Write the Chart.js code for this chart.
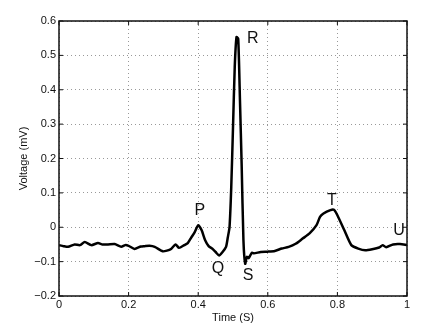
<!DOCTYPE html>
<html>
<head>
<meta charset="utf-8">
<script src="https://cdn.jsdelivr.net/npm/chart.js@4"></script>
<style>
    html, body { margin: 0; padding: 0; background: #fff; }
    #wrap { width: 441px; height: 334px; }
</style>
</head>
<body>
<div id="wrap"><canvas id="ecgChart"></canvas></div>
<script>
const time = [
    0, 0.013, 0.026, 0.045, 0.06, 0.074, 0.093, 0.112, 0.125, 0.141, 0.16, 0.179, 0.19, 0.2, 0.217, 0.235, 0.246, 0.26, 0.275,
    0.298, 0.31, 0.322, 0.335, 0.345, 0.36, 0.37, 0.38, 0.39, 0.4, 0.41, 0.42, 0.43, 0.44, 0.45, 0.46,
    0.47, 0.48, 0.485, 0.49, 0.495, 0.5, 0.505, 0.51, 0.515, 0.52, 0.525, 0.53, 0.535, 0.54,
    0.545, 0.55, 0.555, 0.56, 0.58, 0.6, 0.62, 0.64, 0.66, 0.68, 0.7, 0.72, 0.74, 0.75, 0.76,
    0.78, 0.79, 0.8, 0.82, 0.84, 0.86, 0.88, 0.9, 0.92, 0.93, 0.94, 0.96, 0.98, 1.0
];

const voltage = [
    -0.052, -0.055, -0.057, -0.05, -0.052, -0.043, -0.052, -0.046, -0.05, -0.05, -0.049, -0.057, -0.052, -0.054, -0.063, -0.056, -0.055, -0.054, -0.057,
    -0.07, -0.068, -0.063, -0.05, -0.06, -0.052, -0.046, -0.03, -0.014, 0.006, -0.009, -0.038, -0.055, -0.062, -0.072, -0.082,
    -0.072, -0.057, -0.03, 0.0, 0.117, 0.29, 0.466, 0.553, 0.548, 0.37, 0.176, -0.038, -0.106, -0.086,
    -0.09, -0.081, -0.074, -0.076, -0.072, -0.071, -0.069, -0.062, -0.057, -0.048, -0.033, -0.018, 0.006, 0.03, 0.04,
    0.05, 0.051, 0.035, -0.009, -0.052, -0.062, -0.067, -0.064, -0.059, -0.052, -0.058, -0.05, -0.049, -0.052
];

const waveNames = ['P', 'Q', 'R', 'S', 'T', 'U'];
const waveX = [0.405, 0.457, 0.557, 0.543, 0.784, 0.977];
const waveY = [0.048, -0.121, 0.548, -0.141, 0.077, -0.01];

const points = time.map((t, i) => ({ x: t, y: voltage[i] }));

// MATLAB-like frame with inward ticks, plus P Q R S T U letters
const framePlugin = {
    id: 'frame',
    afterDatasetsDraw(chart) {
        const { ctx, chartArea: a, scales } = chart;
        ctx.save();
        ctx.strokeStyle = '#111';
        ctx.lineWidth = 1.5;
        ctx.strokeRect(a.left, a.top, a.right - a.left, a.bottom - a.top);
        ctx.lineWidth = 1;
        scales.x.ticks.forEach(tk => {
            const px = scales.x.getPixelForValue(tk.value);
            ctx.beginPath();
            ctx.moveTo(px, a.bottom); ctx.lineTo(px, a.bottom - 4);
            ctx.moveTo(px, a.top); ctx.lineTo(px, a.top + 4);
            ctx.stroke();
        });
        scales.y.ticks.forEach(tk => {
            const py = scales.y.getPixelForValue(tk.value);
            ctx.beginPath();
            ctx.moveTo(a.left, py); ctx.lineTo(a.left + 4, py);
            ctx.moveTo(a.right, py); ctx.lineTo(a.right - 4, py);
            ctx.stroke();
        });
        ctx.fillStyle = '#111';
        ctx.font = '16px "Liberation Sans", Arial, sans-serif';
        ctx.textAlign = 'center';
        ctx.textBaseline = 'middle';
        waveNames.forEach((n, i) => {
            ctx.fillText(n, scales.x.getPixelForValue(waveX[i]), scales.y.getPixelForValue(waveY[i]));
        });
        ctx.restore();
    }
};

const tickFont = { family: '"Liberation Sans", Arial, sans-serif', size: 11 };

const config = {
    type: 'line',
    data: {
        datasets: [{
            data: points,
            borderColor: '#000',
            borderWidth: 2.5,
            pointRadius: 0,
            tension: 0.2,
            fill: false,
        }]
    },
    options: {
        responsive: true,
        maintainAspectRatio: false,
        animation: false,
        layout: { padding: { top: 21, right: 34, left: 0, bottom: 0 } },
        plugins: {
            legend: { display: false },
            tooltip: { enabled: false }
        },
        scales: {
            x: {
                type: 'linear',
                min: 0,
                max: 1,
                afterFit(scale) { scale.height = 38; },
                ticks: {
                    stepSize: 0.2,
                    color: '#111',
                    font: tickFont,
                    padding: 2,
                    maxRotation: 0,
                    callback: v => Number(v.toFixed(1)).toString()
                },
                grid: {
                    color: '#999',
                    lineWidth: 1,
                    tickLength: 0,
                },
                border: { display: false, dash: [1, 3] },
                title: {
                    display: true,
                    text: 'Time (S)',
                    color: '#111',
                    font: tickFont,
                    padding: { top: 0, bottom: 9 }
                }
            },
            y: {
                min: -0.2,
                max: 0.6,
                afterFit(scale) { scale.width = 59; },
                ticks: {
                    stepSize: 0.1,
                    color: '#111',
                    font: tickFont,
                    padding: 3,
                    callback: v => {
                        const r = Math.round(v * 10) / 10;
                        return r < 0 ? '\u2212' + Math.abs(r) : String(r);
                    }
                },
                grid: {
                    color: '#999',
                    lineWidth: 1,
                    tickLength: 0,
                },
                border: { display: false, dash: [1, 3] },
                title: {
                    display: true,
                    text: 'Voltage (mV)',
                    color: '#111',
                    font: tickFont,
                    padding: { top: 17, bottom: 0 }
                }
            }
        }
    },
    plugins: [framePlugin]
};

const ecgChart = new Chart(document.getElementById('ecgChart'), config);
</script>
</body>
</html>
